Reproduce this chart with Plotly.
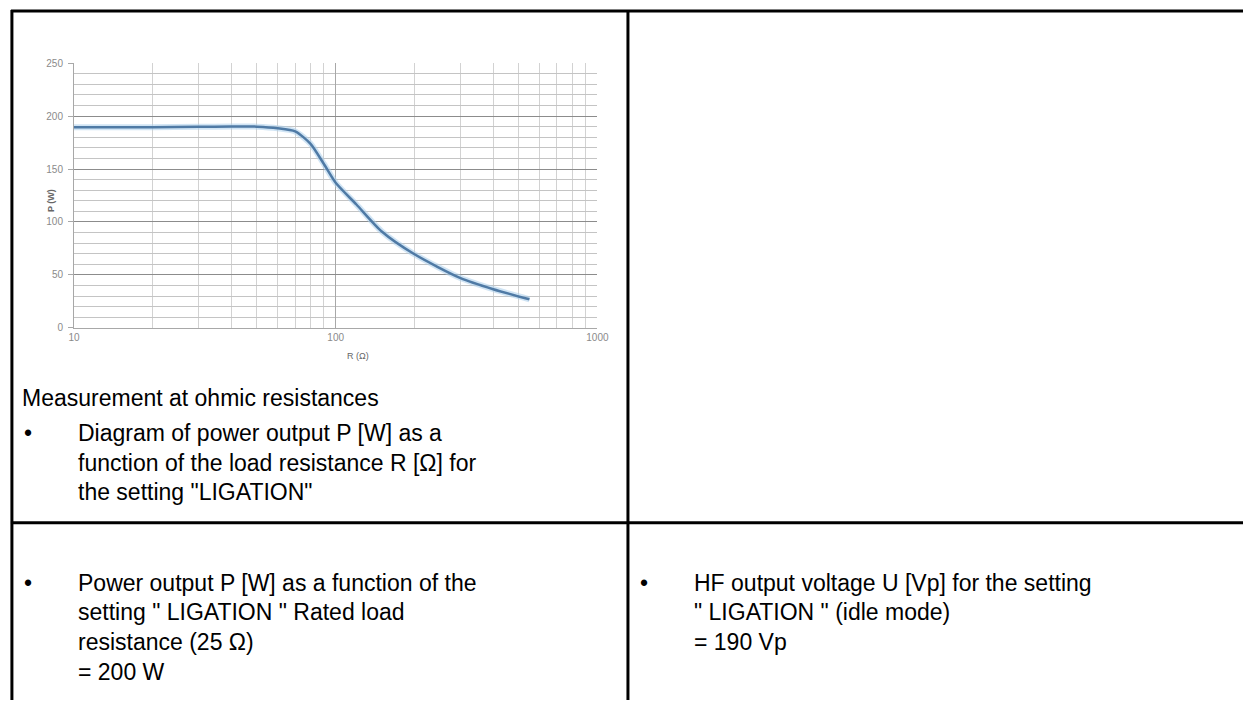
import plotly.graph_objects as go

# ---- data ----
R_ohm = [10, 20, 30, 40, 50, 60, 70, 80, 90, 100, 120, 150, 200, 300, 400, 550]
P_watt = [189.5, 189.5, 189.8, 190.2, 190.0, 188.5, 185.5, 174.0, 155.0, 137.0, 116.5, 91.0, 69.5, 47.0, 36.5, 27.0]

x_major_ticks = [10, 100, 1000]
x_major_labels = ["10", "100", "1000"]
x_minor_ticks = [20, 30, 40, 50, 60, 70, 80, 90, 200, 300, 400, 500, 600, 700, 800, 900]

W, H = 1255, 706


def px(x):
    return x / W


def py(y):
    return 1 - y / H


fig = go.Figure()

# soft glow under the line (Excel style)
fig.add_trace(go.Scatter(
    x=R_ohm, y=P_watt, mode="lines",
    line=dict(color="rgba(170,205,235,0.55)", width=6, shape="spline", smoothing=0.7),
    hoverinfo="skip"))
fig.add_trace(go.Scatter(
    x=R_ohm, y=P_watt, mode="lines",
    line=dict(color="#4f7aa5", width=2.5, shape="spline", smoothing=0.7),
    name="P"))

tick_font = dict(family="Liberation Sans, Arial", size=10, color="#8a8a8a")

fig.update_layout(
    width=W, height=H,
    margin=dict(l=0, r=0, t=0, b=0),
    paper_bgcolor="white", plot_bgcolor="white",
    showlegend=False,
    xaxis=dict(
        type="log", range=[1, 3],
        domain=[px(69), px(600)],
        tickvals=x_major_ticks, ticktext=x_major_labels,
        showgrid=True, gridcolor="#a8a8a8", gridwidth=1,
        minor=dict(tickvals=x_minor_ticks, showgrid=True, gridcolor="#d2d2d2", gridwidth=1),
        showline=True, linecolor="#a8a8a8", linewidth=1,
        ticks="", zeroline=False,
        tickfont=tick_font,
    ),
    yaxis=dict(
        range=[0, 250],
        domain=[py(328), py(59)],
        dtick=50, tick0=0,
        showgrid=True, gridcolor="#8c8c8c", gridwidth=1,
        minor=dict(dtick=10, showgrid=True, gridcolor="#c4c4c4", gridwidth=1),
        showline=True, linecolor="#a8a8a8", linewidth=1,
        ticks="outside", ticklen=5, tickcolor="#a8a8a8",
        ticklabelstandoff=3,
        zeroline=False,
        tickfont=tick_font,
    ),
)

# axis titles
fig.add_annotation(text="<b>P (W)</b>", x=px(38), y=py(185), xref="paper", yref="paper",
                   textangle=-90, showarrow=False, font=dict(family="Liberation Sans, Arial", size=9, color="#666666"))
fig.add_annotation(text="R (Ω)", x=px(344), y=py(357), xref="paper", yref="paper",
                   showarrow=False, font=dict(family="Liberation Sans, Arial", size=9, color="#666666"))

# table lines
line_style = dict(color="black", width=3)
fig.add_shape(type="line", xref="paper", yref="paper", x0=px(5), x1=1, y0=py(6), y1=py(6), line=line_style)
fig.add_shape(type="line", xref="paper", yref="paper", x0=px(6), x1=px(6), y0=py(5), y1=0, line=line_style)
fig.add_shape(type="line", xref="paper", yref="paper", x0=px(631), x1=px(631), y0=py(5), y1=0, line=line_style)
fig.add_shape(type="line", xref="paper", yref="paper", x0=px(5), x1=1, y0=py(526), y1=py(526), line=line_style)

body_font = dict(family="Liberation Sans, Arial", size=23, color="black")


def text_line(s, x, y):
    fig.add_annotation(text=s, x=px(x), y=py(y), xref="paper", yref="paper",
                       xanchor="left", yanchor="middle", showarrow=False, font=body_font)


text_line("Measurement at ohmic resistances", 14, 399)
text_line("•", 16, 435)
text_line("Diagram of power output P [W] as a", 71, 435)
text_line("function of the load resistance R [Ω] for", 71, 465)
text_line("the setting \"LIGATION\"", 71, 495)

text_line("•", 16, 587)
text_line("Power output P [W] as a function of the", 71, 587)
text_line("setting \" LIGATION \" Rated load", 71, 617)
text_line("resistance (25 Ω)", 71, 647)
text_line("= 200 W", 71, 678)

text_line("•", 641, 587)
text_line("HF output voltage U [Vp] for the setting", 696, 587)
text_line("\" LIGATION \" (idle mode)", 696, 617)
text_line("= 190 Vp", 696, 647)

fig.write_html("out.html", config={"displayModeBar": False},
               post_script="document.body.style.margin='0';")
